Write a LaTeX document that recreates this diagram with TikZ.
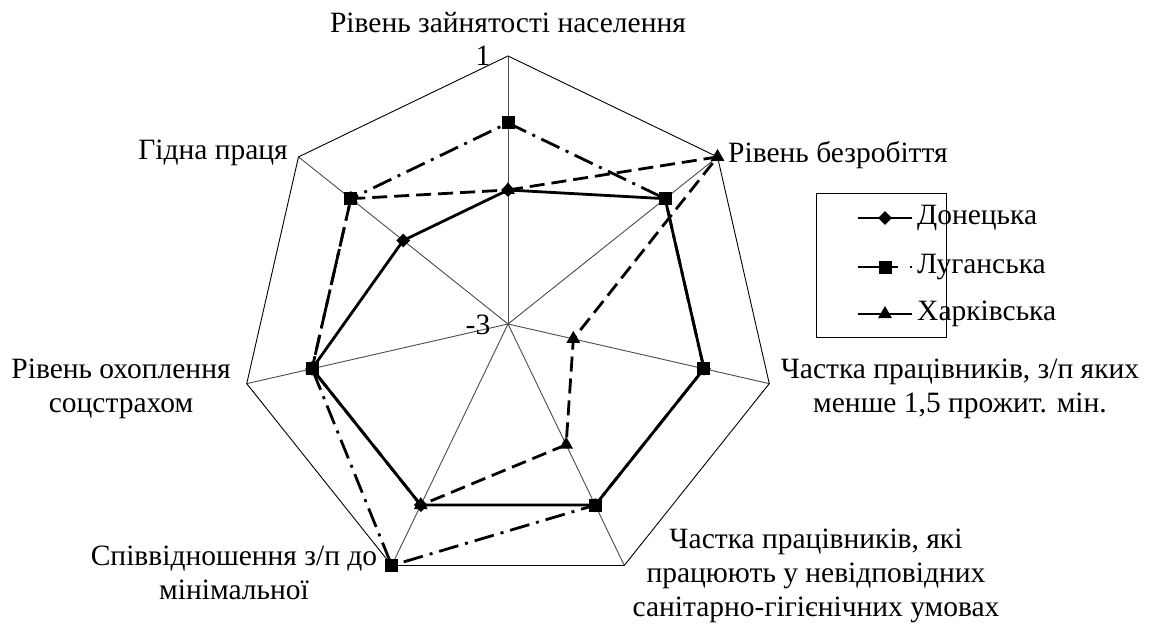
\documentclass[tikz,border=0pt]{standalone}
\usepackage{fontspec}
\setmainfont{Liberation Serif}
\usetikzlibrary{shapes.geometric}
\begin{document}
\begin{tikzpicture}[x=1pt,y=1pt,
  lbl/.style={inner sep=0pt,font=\fontsize{29.5}{34}\selectfont,align=center},
  gridl/.style={line width=0.9pt,black},
  axisl/.style={line width=0.9pt,black!70},
  dline/.style={line width=2.8pt,black,line join=miter},
  lline/.style={line width=2.8pt,black,dash pattern=on 20pt off 7pt on 3pt off 7pt},
  kline/.style={line width=2.8pt,black,dash pattern=on 15pt off 7pt},
  dmark/.style={diamond,fill=black,inner sep=0pt,minimum width=14pt,minimum height=14pt},
  lmark/.style={rectangle,fill=black,inner sep=0pt,minimum size=13pt},
  kmark/.style={regular polygon,regular polygon sides=3,fill=black,inner sep=0pt,minimum size=16pt},
  legbox/.style={draw=black,line width=0.9pt,inner sep=0pt,minimum width=130pt,minimum height=144pt}
]
\useasboundingbox (0,0) rectangle (1151,625);
\fill[white] (0,0) rectangle (1151,625);
\coordinate (C) at (508,301);
\begin{scope}[shift={(508,301)}]
  % grid
  \foreach \i in {0,...,6} {
    \coordinate (v\i) at ({90-\i*360/7}:268);
  }
  \foreach \i in {0,...,6} { \draw[axisl] (0,0) -- (v\i); }
  \draw[gridl] (v0) -- (v1) -- (v2) -- (v3) -- (v4) -- (v5) -- (v6) -- cycle;
  % data coordinates
  \foreach \r [count=\i from 0] in {134,201,201,201,201,201,134} {
    \coordinate (d\i) at ({90-\i*360/7}:\r);
  }
  \foreach \r [count=\i from 0] in {201,201,201,201,268,201,201} {
    \coordinate (l\i) at ({90-\i*360/7}:\r);
  }
  \foreach \r [count=\i from 0] in {134,268,67,134,201,201,201} {
    \coordinate (k\i) at ({90-\i*360/7}:\r);
  }
  % Donetsk
  \draw[dline] (d0) -- (d1) -- (d2) -- (d3) -- (d4) -- (d5) -- (d6) -- cycle;
  \foreach \i in {0,...,6} { \node[dmark] (dm\i) at (d\i) {}; }
  % Luhansk
  \draw[lline] (l0) -- (l1) -- (l2) -- (l3) -- (l4) -- (l5) -- (l6) -- cycle;
  \foreach \i in {0,...,6} { \node[lmark] (lm\i) at (l\i) {}; }
  % Kharkiv
  \draw[kline] (k0) -- (k1) -- (k2) -- (k3) -- (k4) -- (k5) -- (k6) -- cycle;
  \foreach \i in {0,...,6} { \node[kmark] (km\i) at (k\i) {}; }
\end{scope}
% axis value labels
\node[lbl] (one) at (483,569) {1};
\node[lbl] (mthree) at (478,300) {-3};
% category labels
\node[lbl] (t0) at (508,602) {Рівень зайнятості населення};
\node[lbl,anchor=west] (t1) at (728,470) {Рівень безробіття};
\node[lbl] (t2) at (960,236) {Частка працівників, з/п яких\\менше 1,5 прожит. мін.};
\node[lbl] (t3) at (816,49) {Частка працівників, які\\працюють у невідповідних\\санітарно-гігієнічних умовах};
\node[lbl] (t4) at (234,52) {Співвідношення з/п до\\мінімальної};
\node[lbl] (t5) at (121,236) {Рівень охоплення\\соцстрахом};
\node[lbl,anchor=east] (t6) at (288,472) {Гідна праця};
% legend
\node[legbox] (leg) at (881,360) {};
\coordinate (la1) at (858,407); \coordinate (lb1) at (912,407);
\coordinate (la2) at (858,358); \coordinate (lb2) at (912,358);
\coordinate (la3) at (858,311); \coordinate (lb3) at (912,311);
\draw[line width=2.8pt] (la1) -- (lb1);
\node[dmark] (lgm1) at (885,407) {};
\draw[line width=2.8pt,dash pattern=on 40pt off 12pt on 2pt off 10pt] (la2) -- (lb2);
\node[lmark] (lgm2) at (885,358) {};
\draw[line width=2.8pt] (la3) -- (lb3);
\node[kmark] (lgm3) at (885,311) {};
\node[lbl,anchor=west] (lg1) at (917,407) {Донецька};
\node[lbl,anchor=west] (lg2) at (917,358) {Луганська};
\node[lbl,anchor=west] (lg3) at (917,311) {Харківська};
\end{tikzpicture}
\end{document}
